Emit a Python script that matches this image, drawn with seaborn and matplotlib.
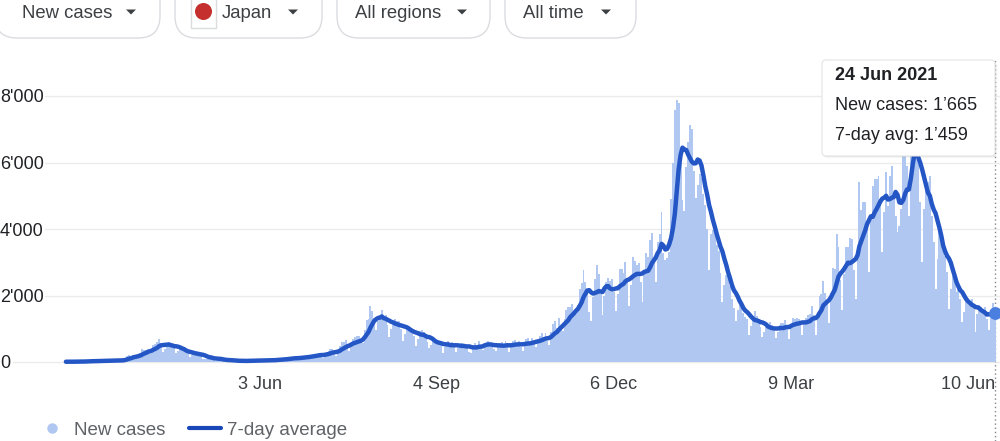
import numpy as np
import pandas as pd
import matplotlib.pyplot as plt
import matplotlib.dates as mdates
from matplotlib.lines import Line2D
from matplotlib.patches import FancyBboxPatch, Circle, Rectangle, Polygon
import seaborn as sns

# daily new cases in Japan from 22 Feb 2020, one row per week (Sat..Fri)
start_date = '2020-02-22'
new_cases = [
    8, 10, 6, 9, 12, 13, 12,
    16, 18, 12, 18, 22, 26, 28,
    40, 30, 22, 35, 40, 38, 40,
    50, 40, 28, 45, 50, 52, 50,
    60, 50, 40, 100, 170, 200, 150,
    200, 190, 110, 220, 280, 380, 370,
    360, 380, 250, 350, 510, 550, 610,
    700, 550, 300, 400, 540, 590, 490,
    560, 460, 260, 320, 400, 390, 340,
    300, 260, 150, 220, 280, 290, 250,
    200, 200, 85, 90, 100, 130, 175,
    110, 80, 40, 60, 80, 70, 85,
    50, 35, 25, 35, 45, 40, 50,
    30, 25, 15, 30, 40, 50, 55,
    45, 40, 30, 35, 50, 60, 55,
    55, 50, 30, 50, 70, 80, 85,
    90, 80, 50, 80, 120, 130, 150,
    130, 110, 70, 100, 150, 170, 180,
    190, 160, 110, 160, 210, 250, 250,
    270, 210, 120, 200, 290, 340, 390,
    400, 300, 180, 300, 470, 610, 610,
    650, 500, 330, 520, 690, 740, 770,
    780, 640, 580, 970, 1260, 1300, 1680,
    1520, 1330, 950, 1220, 1350, 1550, 1320,
    1400, 1100, 750, 990, 1220, 1300, 1220,
    1230, 1000, 620, 840, 1120, 1080, 900,
    1000, 780, 480, 700, 920, 970, 890,
    730, 590, 430, 520, 650, 620, 660,
    600, 500, 270, 450, 590, 640, 485,
    610, 470, 290, 420, 550, 560, 495,
    520, 440, 300, 280, 480, 560, 500,
    640, 470, 350, 500, 600, 640, 510,
    560, 400, 320, 480, 560, 610, 500,
    620, 440, 300, 490, 630, 660, 570,
    620, 440, 320, 550, 680, 720, 590,
    720, 550, 440, 650, 780, 860, 760,
    870, 640, 500, 890, 1150, 1240, 1010,
    1330, 1040, 930, 1300, 1550, 1640, 1660,
    1730, 1440, 1440, 1700, 2200, 2370, 2770,
    2420, 2160, 1500, 1240, 1950, 2500, 2930,
    2660, 2060, 1400, 2000, 2400, 2520, 2430,
    2500, 2100, 1530, 2040, 2810, 2800, 2670,
    3000, 2400, 1680, 2330, 3170, 3040, 2930,
    2990, 2400, 1800, 2660, 3270, 3170, 3660,
    3880, 2970, 2400, 3600, 3850, 4520, 3280,
    3058, 3128, 3313, 4910, 6000, 7570, 7882,
    7790, 6094, 4876, 4538, 5870, 6605, 7133,
    7014, 5759, 4925, 5320, 5654, 5540, 5046,
    4717, 3990, 2764, 3850, 3960, 4130, 3530,
    3343, 2673, 1792, 2324, 2631, 2576, 2284,
    1906, 1610, 1232, 1569, 1712, 1877, 1460,
    1360, 1299, 800, 1080, 1310, 1530, 1381,
    1230, 1060, 740, 900, 1050, 1100, 1200,
    1100, 980, 720, 900, 1100, 1170, 1170,
    1250, 1060, 700, 1130, 1310, 1280, 1320,
    1300, 1190, 800, 1130, 1320, 1420, 1450,
    1690, 1400, 820, 1500, 2000, 2050, 2440,
    2080, 1790, 1160, 2090, 2820, 2790, 3860,
    3460, 2470, 1570, 2660, 3450, 3450, 3740,
    3700, 2780, 1900, 3450, 5400, 4570, 4800,
    4800, 4100, 2700, 4300, 5300, 5500, 5500,
    5600, 4900, 3300, 4500, 5700, 4700, 5600,
    5900, 5000, 4400, 3900, 4100, 4600, 6190,
    7240, 5900, 4400, 6200, 7060, 7060, 6240,
    6100, 4800, 3000, 4600, 5500, 5400, 5600,
    4400, 3600, 2200, 3100, 4000, 3700, 3500,
    3200, 2700, 1600, 2200, 2600, 2400, 2100,
    2300, 1900, 1200, 1500, 1900, 1900, 1760,
    1900, 1700, 900, 1450, 1700, 1500, 1490,
    1650, 1300, 950, 1400, 1760, 1665,
]

tick_dates = ['2020-06-03', '2020-09-04', '2020-12-06', '2021-03-09', '2021-06-10']
tick_labels = ['3 Jun', '4 Sep', '6 Dec', '9 Mar', '10 Jun']
y_ticks = [0, 2000, 4000, 6000, 8000]
y_labels = ['0', "2'000", "4'000", "6'000", "8'000"]

filters = ['New cases', 'Japan', 'All regions', 'All time']
tooltip_date = '24 Jun 2021'
tooltip_cases = 1665
tooltip_avg = 1459

bar_color = '#afc7f1'
line_color = '#2457c5'

sns.set_style('white')
plt.rcParams['font.family'] = ['Liberation Sans', 'DejaVu Sans']

df = pd.DataFrame({'date': pd.date_range(start_date, periods=len(new_cases), freq='D'),
                   'cases': new_cases})
df['avg'] = df['cases'].rolling(7, min_periods=1).mean()

fig = plt.figure(figsize=(10, 4.41), dpi=100)
ax = fig.add_axes([0, (441 - 372) / 441, 1, 312 / 441])

# scales: 1.903 px per day, 33.25 px per 1000 cases
px_day = 1.903
d0 = mdates.date2num(df['date'].iloc[0])
ax.set_xlim(d0 - 65.9 / px_day, d0 + (1000 - 65.9) / px_day)
ax.set_ylim(-10 * 1000 / 33.25, (362 - 60) * 1000 / 33.25)

for v in y_ticks:
    ax.axhline(v, xmin=(13 if v == 0 else 45) / 1000, color='#ebebeb', lw=1, zorder=1)

ax.bar(df['date'], df['cases'], width=1.0, color=bar_color, linewidth=0, zorder=2)
sns.lineplot(data=df, x='date', y='avg', ax=ax, color=line_color, linewidth=3.2,
             zorder=3, solid_capstyle='round', solid_joinstyle='round')
last = df.iloc[-1]
ax.axvline(last['date'], ymin=(372 - 441) / 312, ymax=1, color='#80868b', lw=1,
           ls=(0, (1, 2)), clip_on=False, zorder=1)
ax.scatter([last['date']], [last['avg']], s=85, color='#4a7fe0', linewidths=0,
           zorder=4, clip_on=False)

ax.set_xticks(mdates.date2num(pd.to_datetime(tick_dates)))
ax.set_xticklabels(tick_labels)
ax.tick_params(axis='x', direction='in', length=7.2, width=0.8, color='#dadce0',
               pad=3, labelsize=13, labelcolor='#3c4043')
ax.set_yticks(y_ticks)
ax.set_yticklabels(y_labels)
ax.tick_params(axis='y', length=0, pad=0, labelsize=13, labelcolor='#202124')
for lbl in ax.get_yticklabels():
    lbl.set_ha('left')
ax.set_xlabel('')
ax.set_ylabel('')
sns.despine(ax=ax, left=True, bottom=True)

# overlay in pixel units for the controls and the hover box
ov = fig.add_axes([0, 0, 1, 1], zorder=5)
ov.set_xlim(0, 1000)
ov.set_ylim(441, 0)
ov.axis('off')

pills = [(-5, 160, 22, 131), (175, 322, 222, 293), (337, 490, 355, 462), (505, 636, 523, 606)]
for (x0, x1, tx, ax_x), name in zip(pills, filters):
    ov.add_patch(FancyBboxPatch((x0, -25), x1 - x0, 63,
                                boxstyle='round,pad=0,rounding_size=22',
                                fc='white', ec='#dadce0', lw=1))
    ov.text(tx, 13, name, fontsize=13.3, color='#3c4043', va='center', ha='left')
    ov.add_patch(Polygon([(ax_x - 5, 9.5), (ax_x + 5, 9.5), (ax_x, 14.5)],
                         closed=True, fc='#3c4043', ec='none'))
ov.add_patch(Rectangle((191, -4), 25, 32, fc='white', ec='#dadce0', lw=1))
ov.add_patch(Circle((203.5, 11.5), 8.5, fc='#c5302e', ec='none'))

ov.add_patch(FancyBboxPatch((823.5, 61.5), 173, 96, boxstyle='round,pad=0,rounding_size=4',
                            fc='#000000', ec='none', alpha=0.08))
ov.add_patch(FancyBboxPatch((822, 60), 173, 96, boxstyle='round,pad=0,rounding_size=4',
                            fc='white', ec='#e3e3e3', lw=0.8))
fmt = lambda v: f'{v:,}'.replace(',', '\u2019')
ov.text(835, 75, tooltip_date, fontsize=13, fontweight='bold', color='#202124', va='center')
ov.text(835, 105, f'New cases: {fmt(tooltip_cases)}', fontsize=13, color='#202124', va='center')
ov.text(835, 136, f'7-day avg: {fmt(tooltip_avg)}', fontsize=13, color='#202124', va='center')

handles = [Line2D([], [], marker='o', ls='none', ms=7.5, mfc=bar_color, mec='none'),
           Line2D([], [], color='#1a47b8', lw=3)]
fig.legend(handles=handles, labels=['New cases', '7-day average'], loc='center left',
           bbox_to_anchor=(0.036, 1 - 430 / 441), ncol=2, frameon=False, fontsize=13.5,
           handlelength=1.7, handletextpad=0.3, columnspacing=1.3, borderpad=0,
           borderaxespad=0, labelcolor='#5f6368')

fig.savefig('out.png', dpi=100)
